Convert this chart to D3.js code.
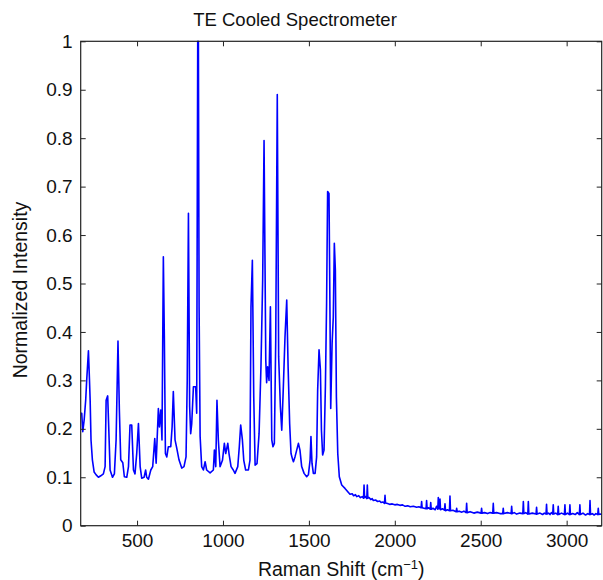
<!DOCTYPE html>
<html>
<head>
<meta charset="utf-8">
<script src="https://cdn.jsdelivr.net/npm/d3@7"></script>
<style>
  html, body { margin: 0; padding: 0; background: #fff; }
  svg { display: block; }
  text { font-family: "Liberation Sans", Arial, Helvetica, sans-serif; fill: #111; }
</style>
</head>
<body>
<svg id="chart" width="603" height="580"></svg>
<script>
// ---- data ----
// fingerprint region (cm^-1) and normalized intensity
const peakShift = [
  172,178,184,192,201,207,217,223,227,232,240,250,262,275,289,304,314,320,329,335,
  343,357,368,378,389,397,405,417,426,440,450,459,469,479,488,498,508,518,527,541,
  550,556,566,580,591,603,611,624,630,638,645,653,659,665,673,682,696,704,711,721,
  731,744,760,773,785,792,799,806,812,818,828,841,847,853,857,861,867,876,886,896,
  905,925,944,950,958,965,973,983,997,1008,1016,1028,1035,1047,1060,1070,1086,1095,1103,1113,
  1121,1132,1148,1157,1163,1171,1179,1187,1198,1210,1221,1231,1239,1249,1254,1260,1268,1276,1284,1291,
  1299,1307,1316,1324,1334,1342,1350,1361,1371,1379,1388,1396,1405,1410,1419,1429,1439,1448,1458,1472,
  1487,1497,1507,1512,1518,1526,1536,1545,1551,1559,1567,1573,1580,1588,1596,1603,1609,1617,1621,1627,
  1635,1642,1648,1654,1660,1668,1677,1691,1710
];
const peakIntensity = [
  0.232,0.232,0.194,0.218,0.259,0.301,0.361,0.301,0.259,0.177,0.136,0.111,0.105,0.100,0.103,0.107,0.122,0.259,0.268,0.204,
  0.115,0.100,0.107,0.177,0.381,0.239,0.136,0.130,0.101,0.100,0.122,0.208,0.208,0.115,0.107,0.149,0.211,0.122,0.098,0.100,
  0.115,0.100,0.096,0.115,0.122,0.180,0.129,0.242,0.204,0.239,0.177,0.555,0.383,0.149,0.142,0.163,0.163,0.204,0.277,0.177,
  0.160,0.136,0.119,0.122,0.142,0.300,0.645,0.246,0.190,0.210,0.287,0.287,0.232,1.000,1.000,0.450,0.184,0.122,0.115,0.132,
  0.115,0.109,0.115,0.156,0.122,0.259,0.177,0.122,0.135,0.170,0.149,0.170,0.149,0.122,0.115,0.108,0.122,0.163,0.208,0.177,
  0.135,0.115,0.115,0.135,0.452,0.548,0.267,0.125,0.128,0.190,0.328,0.507,0.795,0.342,0.295,0.328,0.300,0.452,0.177,0.163,
  0.170,0.383,0.890,0.349,0.246,0.197,0.273,0.390,0.466,0.328,0.211,0.149,0.137,0.132,0.142,0.156,0.170,0.156,0.122,0.108,
  0.101,0.105,0.136,0.184,0.129,0.108,0.108,0.142,0.280,0.363,0.322,0.197,0.146,0.156,0.287,0.459,0.690,0.686,0.514,0.242,
  0.376,0.431,0.583,0.528,0.266,0.149,0.101,0.084,0.077
];
// high-wavenumber tail with small noise spikes
const tailShift = [
  1739,1752,1760,1771,1778,1790,1800,1810,1818,1821,1824,1830,1837,1840,1843,1850,1860,1868,1875,1888,
  1900,1912,1920,1930,1940,1943,1946,1958,1970,1985,2000,2015,2030,2045,2060,2075,2090,2108,2127,2140,
  2153,2156,2159,2170,2182,2185,2188,2197,2206,2209,2212,2222,2235,2243,2250,2253,2256,2260,2263,2266,
  2277,2289,2292,2295,2306,2318,2321,2324,2338,2357,2360,2363,2375,2390,2402,2415,2418,2421,2438,2460,
  2480,2502,2505,2508,2522,2540,2555,2570,2573,2576,2592,2612,2628,2631,2634,2655,2677,2680,2683,2695,
  2709,2728,2745,2748,2751,2762,2774,2777,2780,2800,2822,2825,2828,2845,2860,2870,2880,2883,2886,2895,
  2903,2912,2919,2922,2925,2937,2948,2951,2954,2970,2987,2990,2993,3005,3016,3019,3022,3035,3050,3062,
  3074,3077,3080,3095,3110,3122,3133,3136,3139,3150,3160,3170,3181,3184,3187,3195,3204
];
const tailIntensity = [
  0.065,0.066,0.062,0.064,0.060,0.062,0.058,0.060,0.057,0.084,0.058,0.060,0.056,0.084,0.057,0.058,0.054,0.056,0.052,0.053,
  0.050,0.051,0.048,0.049,0.046,0.063,0.047,0.046,0.044,0.045,0.043,0.044,0.042,0.043,0.040,0.041,0.039,0.040,0.038,0.039,
  0.037,0.050,0.037,0.036,0.035,0.052,0.035,0.037,0.034,0.048,0.034,0.036,0.033,0.040,0.034,0.058,0.036,0.035,0.055,0.033,
  0.035,0.032,0.045,0.031,0.033,0.031,0.061,0.031,0.032,0.029,0.036,0.029,0.030,0.028,0.030,0.027,0.046,0.027,0.029,0.026,
  0.028,0.026,0.036,0.026,0.027,0.025,0.027,0.026,0.046,0.026,0.027,0.025,0.025,0.036,0.025,0.027,0.025,0.040,0.025,0.027,
  0.024,0.026,0.025,0.050,0.025,0.027,0.024,0.050,0.024,0.026,0.024,0.038,0.024,0.026,0.023,0.026,0.024,0.044,0.024,0.026,
  0.023,0.027,0.024,0.043,0.024,0.026,0.023,0.040,0.023,0.026,0.023,0.043,0.023,0.026,0.023,0.043,0.023,0.025,0.023,0.027,
  0.023,0.043,0.023,0.026,0.022,0.025,0.023,0.052,0.023,0.025,0.022,0.025,0.023,0.036,0.023,0.024,0.023
];
const xTicks = [500, 1000, 1500, 2000, 2500, 3000];
const yTicks = [0, 0.1, 0.2, 0.3, 0.4, 0.5, 0.6, 0.7, 0.8, 0.9, 1];
const yTickLabels = ["0", "0.1", "0.2", "0.3", "0.4", "0.5", "0.6", "0.7", "0.8", "0.9", "1"];
const xDomain = [172, 3204];
const yDomain = [0, 1];
const titleText = "TE Cooled Spectrometer";
const yLabelText = "Normalized Intensity";

// ---- layout ----
const svg = d3.select("#chart");
const pL = 80.7, pR = 601.7, pT = 41.3, pB = 525.7;
const x = d3.scaleLinear().domain(xDomain).range([pL, pR]);
const y = d3.scaleLinear().domain(yDomain).range([pB, pT]);

svg.append("defs").append("clipPath").attr("id", "plotclip")
  .append("rect").attr("x", pL).attr("y", pT - 1).attr("width", pR - pL).attr("height", pB - pT + 1);

const allShift = peakShift.concat(tailShift);
const allIntensity = peakIntensity.concat(tailIntensity);
const points = allShift.map((d, i) => [d, allIntensity[i]]);
const line = d3.line().x(d => x(d[0])).y(d => y(d[1]));

svg.append("path")
  .datum(points)
  .attr("clip-path", "url(#plotclip)")
  .attr("d", line)
  .attr("fill", "none")
  .attr("stroke", "#0000ff")
  .attr("stroke-width", 1.6)
  .attr("stroke-linejoin", "round");

// axes
const fs = "19px";
const axB = svg.append("g").attr("transform", `translate(0,${pB})`)
  .call(d3.axisBottom(x).tickValues(xTicks).tickSizeInner(-5).tickSizeOuter(0).tickPadding(8).tickFormat(d3.format("d")));
const axT = svg.append("g").attr("transform", `translate(0,${pT})`)
  .call(d3.axisTop(x).tickValues(xTicks).tickSizeInner(-5).tickSizeOuter(0).tickFormat(""));
const axL = svg.append("g").attr("transform", `translate(${pL},0)`)
  .call(d3.axisLeft(y).tickValues(yTicks).tickSizeInner(-5).tickSizeOuter(0).tickPadding(8)
    .tickFormat((d, i) => yTickLabels[i]));
const axR = svg.append("g").attr("transform", `translate(${pR},0)`)
  .call(d3.axisRight(y).tickValues(yTicks).tickSizeInner(-5).tickSizeOuter(0).tickFormat(""));

[axB, axT, axL, axR].forEach(g => {
  g.select(".domain").remove();
  g.selectAll(".tick line").attr("stroke", "#222").attr("stroke-width", 1);
  g.selectAll("text").attr("font-size", fs).attr("fill", "#111")
    .attr("font-family", '"Liberation Sans", Arial, sans-serif');
});

svg.append("rect")
  .attr("x", pL).attr("y", pT).attr("width", pR - pL).attr("height", pB - pT)
  .attr("fill", "none").attr("stroke", "#222").attr("stroke-width", 1.2);

// title
svg.append("text").attr("x", 295).attr("y", 26).attr("text-anchor", "middle")
  .attr("font-size", "18.5px").text(titleText);

// x label with superscript
const xl = svg.append("text").attr("x", (pL + pR) / 2).attr("y", 576)
  .attr("text-anchor", "middle").attr("font-size", "19.5px");
xl.append("tspan").text("Raman Shift (cm");
xl.append("tspan").attr("dy", -7).attr("font-size", "13px").text("\u22121");
xl.append("tspan").attr("dy", 7).text(")");

// y label
svg.append("text")
  .attr("transform", `translate(27,${290}) rotate(-90)`)
  .attr("text-anchor", "middle").attr("font-size", "19.5px")
  .text(yLabelText);
</script>
</body>
</html>
